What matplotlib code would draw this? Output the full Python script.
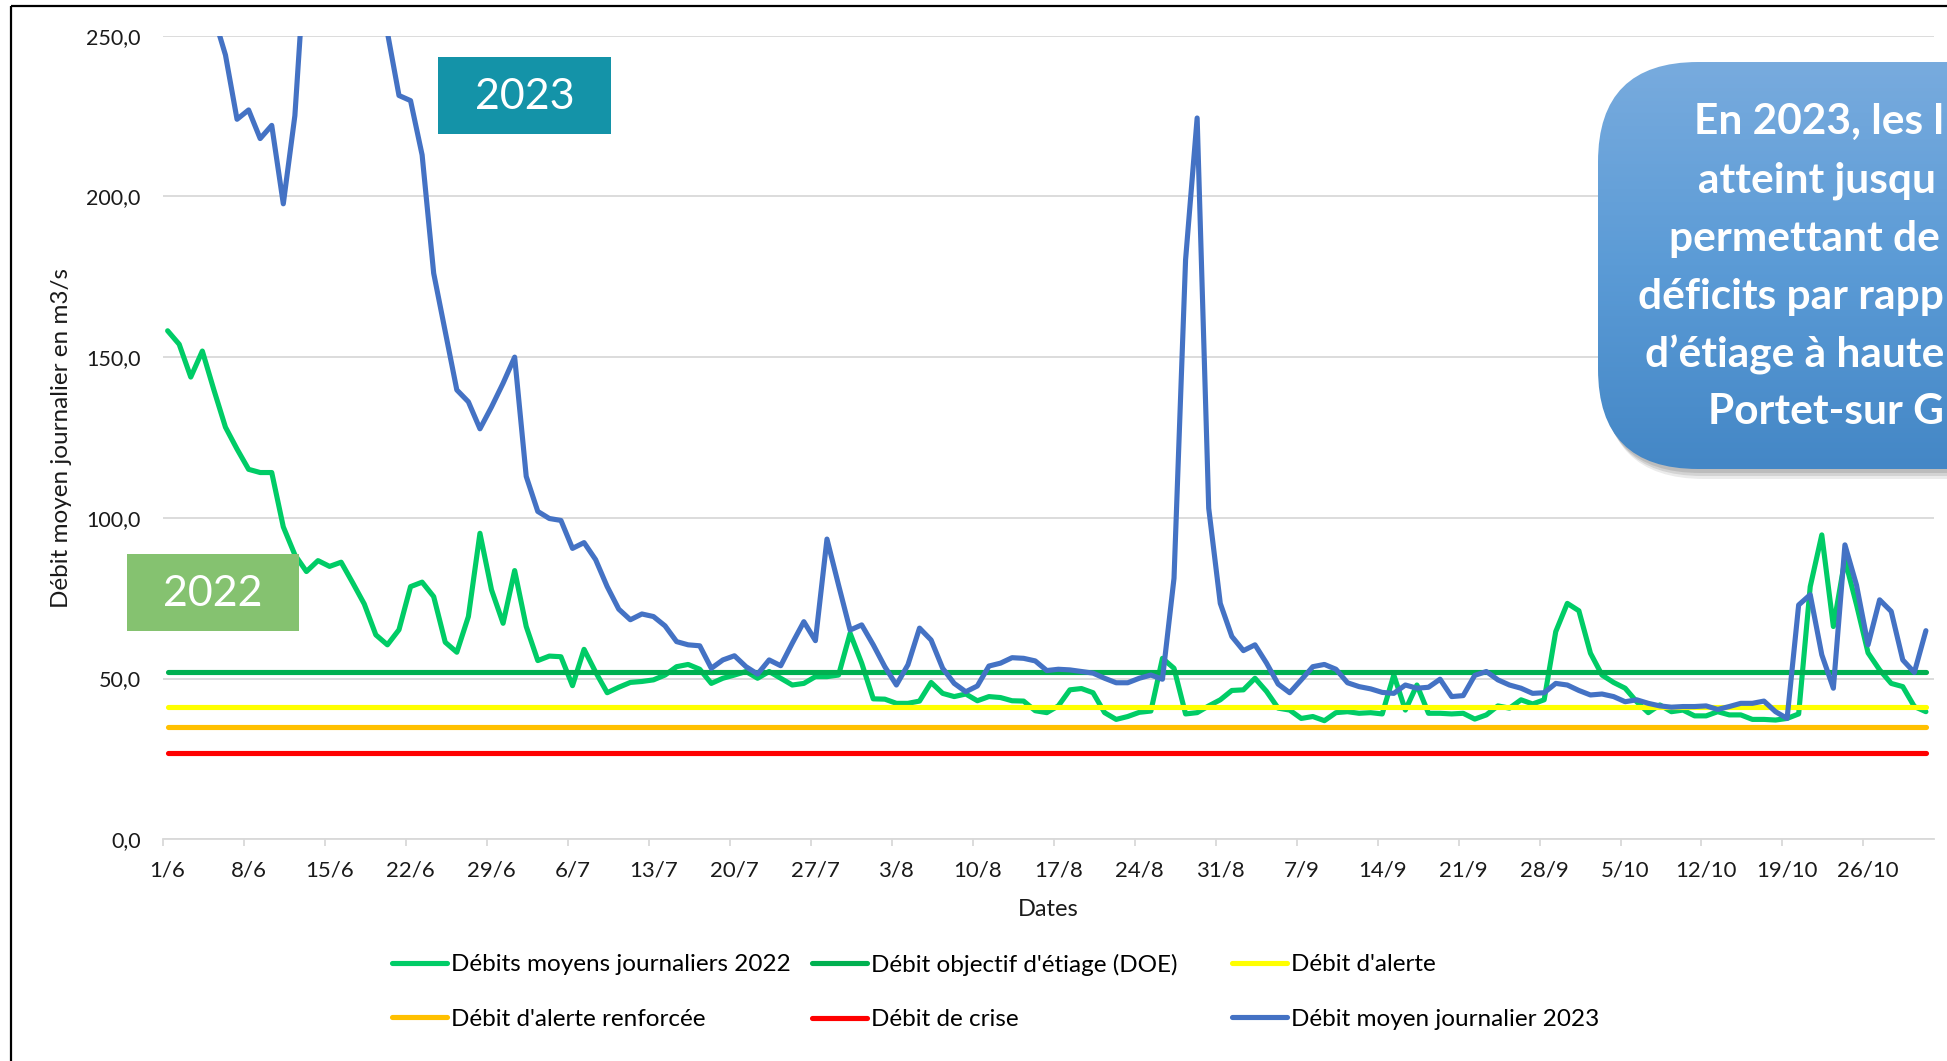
import numpy as np
import matplotlib
matplotlib.use("Agg")
import matplotlib.pyplot as plt
from matplotlib.patches import FancyBboxPatch, Rectangle
from matplotlib.colors import LinearSegmentedColormap
from matplotlib.ticker import FixedLocator

plt.rcParams['font.family'] = ['Lato', 'DejaVu Sans']

# ---------------- data ----------------
tick_labels = ["1/6", "8/6", "15/6", "22/6", "29/6", "6/7", "13/7", "20/7", "27/7",
               "3/8", "10/8", "17/8", "24/8", "31/8", "7/9", "14/9", "21/9", "28/9",
               "5/10", "12/10", "19/10", "26/10"]

q2022 = [158.2, 154.0, 143.8, 151.9, 139.8, 128.2, 121.4, 115.1, 114.1, 114.1,
         97.2, 88.5, 83.3, 86.7, 84.9, 86.2, 79.8, 73.2, 63.6, 60.5,
         65.2, 78.6, 80.0, 75.5, 61.3, 58.2, 69.3, 95.2, 77.6, 67.2,
         83.6, 66.2, 55.6, 57.0, 56.8, 47.8, 59.1, 52.0, 45.6, 47.3,
         48.8, 49.1, 49.6, 51.1, 53.7, 54.4, 52.9, 48.5, 50.1, 51.1,
         52.2, 50.1, 52.2, 50.1, 48.0, 48.5, 50.6, 50.6, 51.1, 64.1,
         54.8, 43.7, 43.6, 42.3, 42.3, 43.0, 48.8, 45.4, 44.4, 45.2,
         43.1, 44.4, 44.1, 43.1, 43.0, 40.0, 39.4, 41.5, 46.5, 46.9,
         45.6, 39.4, 37.3, 38.2, 39.5, 39.9, 56.3, 53.2, 39.0, 39.4,
         41.5, 43.4, 46.3, 46.5, 50.1, 46.0, 40.8, 40.2, 37.6, 38.2,
         36.9, 39.4, 39.7, 39.2, 39.4, 39.0, 51.1, 40.2, 48.0, 39.2,
         39.2, 39.0, 39.2, 37.4, 38.7, 41.5, 40.8, 43.4, 42.1, 43.4,
         64.6, 73.4, 71.1, 57.9, 51.1, 48.8, 47.0, 42.8, 39.4, 41.8,
         39.7, 40.2, 38.4, 38.4, 39.7, 38.7, 38.7, 37.3, 37.3, 37.1,
         37.6, 39.0, 78.6, 94.7, 66.2, 87.0, 73.0, 58.0, 52.7, 48.5,
         47.5, 41.3, 39.7]

q2023 = [320.0, 300.0, 285.0, 270.0, 256.0, 244.0, 224.0, 226.9, 218.0, 222.1,
         197.7, 225.1, 280.0, 330.0, 370.0, 360.0, 330.0, 300.0, 270.0, 251.0,
         231.4, 229.8, 212.9, 176.1, 158.0, 139.8, 136.1, 127.7, 134.5, 141.9,
         150.0, 112.9, 102.0, 99.8, 99.2, 90.5, 92.3, 87.0, 78.6, 71.6,
         68.3, 70.1, 69.3, 66.4, 61.5, 60.5, 60.2, 53.2, 55.8, 57.1,
         53.7, 51.4, 55.8, 54.0, 61.0, 67.7, 61.8, 93.4, 79.1, 65.1,
         66.7, 60.5, 53.7, 48.0, 54.3, 65.7, 62.0, 53.2, 48.5, 45.9,
         47.7, 53.9, 54.8, 56.5, 56.3, 55.5, 52.5, 52.9, 52.7, 52.2,
         51.7, 50.1, 48.7, 48.7, 50.1, 51.1, 49.8, 81.2, 180.3, 224.4,
         103.0, 73.4, 63.1, 58.7, 60.5, 54.8, 48.3, 45.6, 49.6, 53.7,
         54.4, 52.9, 48.7, 47.5, 46.8, 45.7, 45.4, 48.0, 47.0, 47.3,
         49.8, 44.4, 44.7, 51.0, 52.2, 49.6, 48.0, 47.0, 45.4, 45.6,
         48.5, 48.0, 46.3, 44.9, 45.2, 44.4, 42.8, 43.4, 42.3, 41.5,
         41.1, 41.3, 41.3, 41.5, 40.4, 41.3, 42.3, 42.3, 43.0, 39.7,
         37.6, 72.9, 76.1, 57.4, 47.0, 91.6, 79.1, 60.5, 74.5, 70.9,
         55.8, 51.9, 64.9]

doe = 52.0
debit_alerte = 41.2
debit_alerte_renforcee = 35.0
debit_crise = 27.0

y_ticks = [0, 50, 100, 150, 200, 250]

box_lines = ["En 2023, les l", "atteint jusqu", "permettant de",
             "déficits par rapp", "d’étiage à haute", "Portet-sur G"]

# ---------------- figure ----------------
W, H = 1947, 1061
fig = plt.figure(figsize=(W / 100, H / 100), dpi=100)
fig.patch.set_facecolor('white')

ax = fig.add_axes([163 / W, 1 - 839.3 / H, (1934 - 163) / W, (839.3 - 35.7) / H])
days = np.arange(len(q2022))
lw = 3.7
kw = dict(lw=lw, solid_joinstyle='round', solid_capstyle='round')

l1, = ax.plot(days, q2022, color='#00CC66', zorder=3, label='Débits moyens journaliers 2022', **kw)
l2, = ax.plot(days, np.full(len(days), doe), color='#00B050', zorder=4, label="Débit objectif d'étiage (DOE)", **kw)
l3, = ax.plot(days, np.full(len(days), debit_alerte), color='#FFFF00', zorder=5, label="Débit d'alerte", **kw)
l4, = ax.plot(days, np.full(len(days), debit_alerte_renforcee), color='#FFC000', zorder=6, label="Débit d'alerte renforcée", **kw)
l5, = ax.plot(days, np.full(len(days), debit_crise), color='#FF0000', zorder=7, label='Débit de crise', **kw)
l6, = ax.plot(days, q2023, color='#4472C4', zorder=8, label='Débit moyen journalier 2023', **kw)

ax.set_xlim(-0.4, 152.7)
ax.set_ylim(0, 250)

ax.yaxis.set_major_locator(FixedLocator(y_ticks))
ax.set_yticklabels([f"{v:.1f}".replace('.', ',') for v in y_ticks])
ax.yaxis.grid(True, color='#D9D9D9', lw=1.3, zorder=0)
ax.set_axisbelow(True)

major_pos = [7 * i for i in range(len(tick_labels))]
ax.xaxis.set_major_locator(FixedLocator(major_pos))
ax.set_xticklabels(tick_labels)
ax.xaxis.set_minor_locator(FixedLocator([p - 0.4 for p in major_pos]))

ax.tick_params(axis='y', length=0, pad=16, labelsize=15.5, labelcolor='#1a1a1a')
ax.tick_params(axis='x', which='major', length=0, pad=15, labelsize=16, labelcolor='#1a1a1a')
ax.tick_params(axis='x', which='minor', length=5, width=1.3, color='#D9D9D9')

for s in ['left', 'right', 'top']:
    ax.spines[s].set_visible(False)
ax.spines['bottom'].set_color('#D9D9D9')
ax.spines['bottom'].set_linewidth(1.3)

fig.text(62 / W, 1 - 437.5 / H, 'Débit moyen journalier en m3/s', rotation=90,
         ha='center', va='center', fontsize=17.5, color='#1a1a1a')
fig.text(1048.5 / W, 1 - 909 / H, 'Dates', ha='center', va='center', fontsize=17, color='#1a1a1a')

# legends: three columns, two rows
cols = [(392, [l1, l4]), (812, [l2, l5]), (1232, [l3, l6])]
for x0, hs in cols:
    fig.legend(handles=hs, labels=[h.get_label() for h in hs], loc='center left',
               bbox_to_anchor=(x0 / W, 1 - 992 / H), frameon=False, fontsize=17.5,
               handlelength=2.26, handletextpad=0.15, labelspacing=1.39,
               borderpad=0, borderaxespad=0)

# ---------------- overlay (boxes, border) ----------------
ov = fig.add_axes([0, 0, 1, 1], zorder=10)
ov.set_xlim(0, W)
ov.set_ylim(H, 0)
ov.axis('off')

# chart-area border
ov.plot([11, W], [6, 6], color='black', lw=1.6, solid_capstyle='butt')
ov.plot([11, 11], [6, H], color='black', lw=1.6, solid_capstyle='butt')

# year labels
ov.add_patch(Rectangle((438, 57), 173, 77, fc='#1493A8', ec='none'))
ov.text(524.5, 97, '2023', color='white', fontsize=31, ha='center', va='center')
ov.add_patch(Rectangle((127, 554), 172, 77, fc='#85C270', ec='none'))
ov.text(213, 594, '2022', color='white', fontsize=31, ha='center', va='center')

# rounded gradient box
bx0, by0, bw, bh = 1598, 62, 560, 407
for off, a in [(4, 0.10), (7, 0.10), (10, 0.08)]:
    shadow = FancyBboxPatch((bx0 + off * 0.6, by0 + off), bw, bh,
                            boxstyle="round,pad=0,rounding_size=100",
                            fc='#000000', alpha=a, ec='none')
    ov.add_patch(shadow)
box = FancyBboxPatch((bx0, by0), bw, bh, boxstyle="round,pad=0,rounding_size=100",
                     fc='none', ec='none')
ov.add_patch(box)
cmap = LinearSegmentedColormap.from_list('g', ['#78ABDE', '#5B9BD6', '#4487C6'])
grad = np.linspace(0, 1, 256)[:, None]
im = ov.imshow(grad, extent=[bx0, bx0 + bw, by0 + bh, by0], cmap=cmap, aspect='auto', zorder=2)
im.set_clip_path(box)
ov.set_xlim(0, W)
ov.set_ylim(H, 0)

line_x = [1698, 1698, 1669, 1644, 1647, 1732]
line_y = [122, 181, 239, 297, 355, 412]
box_texts = []
for s, x, y in zip(box_lines, line_x, line_y):
    t = ov.text(x, y, s, color='white', fontsize=30.5, fontweight='bold', ha='left', va='center',
                zorder=3)
    box_texts.append(t)

# keep the truncated lines inside the canvas (shift left only if they overflow)
fig.canvas.draw()
renderer = fig.canvas.get_renderer()
for t in box_texts:
    bb = t.get_window_extent(renderer)
    overflow = bb.x1 - (W - 3)
    if overflow > 0:
        x, y = t.get_position()
        t.set_position((x - overflow, y))

fig.savefig('out.png', dpi=100)
